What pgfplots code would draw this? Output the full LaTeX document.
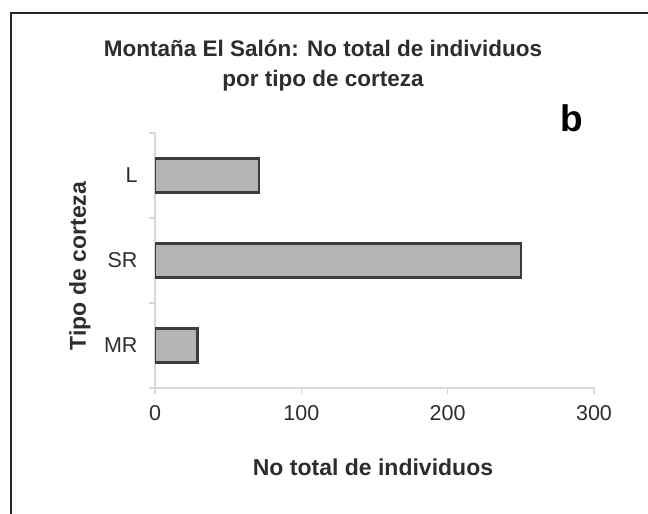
\documentclass[border=0pt]{standalone}
\usepackage{pgfplots}
\pgfplotsset{compat=1.18}
\usepackage{fontspec}
\setmainfont{Liberation Sans}
\definecolor{barfill}{RGB}{180,180,180}
\definecolor{baredge}{RGB}{60,60,60}
\definecolor{axgray}{RGB}{215,215,215}
\definecolor{txt}{RGB}{45,45,45}
\begin{document}
\begin{tikzpicture}[x=1pt,y=1pt]
\path[use as bounding box] (0pt,0pt) rectangle (648pt,-514pt);
\draw[line width=2.5pt, black!85] (11pt,-514pt) -- (11pt,-13pt) -- (648pt,-13pt);
\node[text=txt, font=\fontsize{22.5}{30}\selectfont\bfseries, align=center] at (323pt,-66pt) {Montaña El Salón: No total de individuos\\por tipo de corteza};
\node[font=\fontsize{37}{40}\selectfont\bfseries] at (572pt,-118pt) {b};
\node[text=txt, font=\fontsize{23}{26}\selectfont\bfseries] at (373pt,-467pt) {No total de individuos};
\node[text=txt, font=\fontsize{23}{26}\selectfont\bfseries, rotate=90] at (80pt,-266pt) {Tipo de corteza};
\begin{axis}[
  at={(155pt,-388pt)}, anchor=south west,
  scale only axis, width=439pt, height=255pt,
  xmin=0, xmax=300, ymin=-0.5, ymax=2.5,
  axis x line*=bottom, axis y line*=left,
  axis line style={axgray, line width=1.2pt, -},
  xtick={0,100,200,300},
  ytick={0,1,2}, yticklabels={MR,SR,L},
  minor ytick={-0.5,0.5,1.5,2.5},
  tick align=outside,
  major tick length=6pt, minor tick length=6pt,
  ytick style={draw=axgray, line width=1.2pt},
  major y tick style={draw=none},
  xtick style={draw=axgray, line width=1.2pt},
  tick label style={text=txt, font=\fontsize{21.5}{24}\selectfont},
  /pgf/number format/assume math mode=true,
  xticklabel style={yshift=-8pt},
  yticklabel style={xshift=-8pt},
  xbar, bar width=34pt,
]
\addplot[fill=barfill, draw=baredge, line width=2.3pt] coordinates {(29,0) (250,1) (71,2)};
\end{axis}
\end{tikzpicture}
\end{document}
